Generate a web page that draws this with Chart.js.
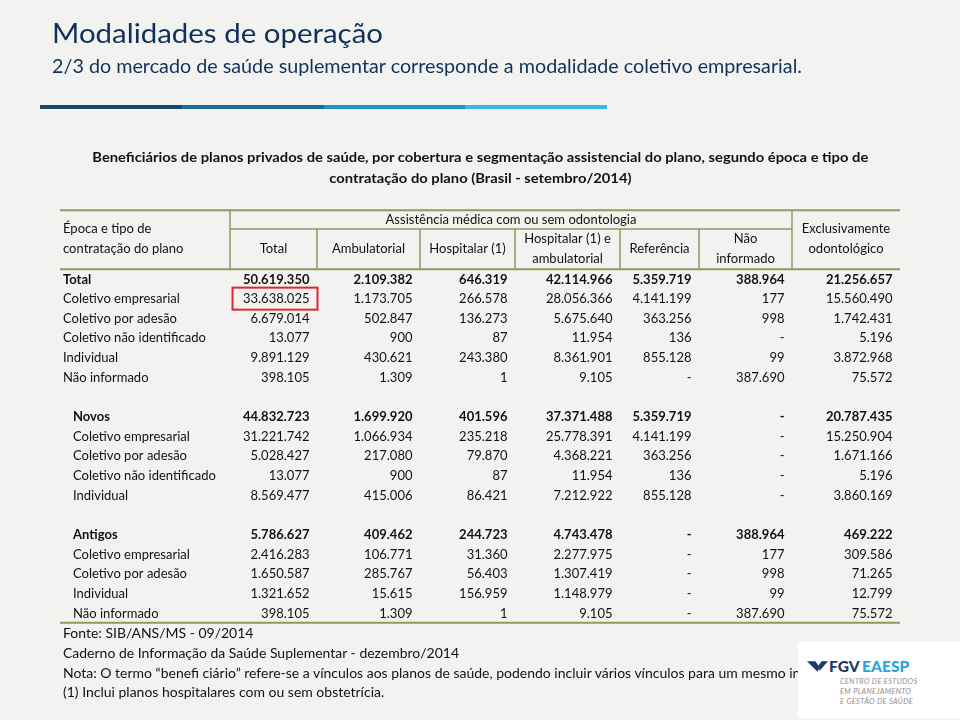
<!DOCTYPE html>
<html><head><meta charset="utf-8">
<script src="https://cdn.jsdelivr.net/npm/chart.js@4.4.1/dist/chart.umd.min.js"></script>
<style>
html,body{margin:0;padding:0;}
body{width:960px;height:720px;background:#f2f2f1;position:relative;overflow:hidden;font-family:Lato,"Open Sans",sans-serif;}
#c{position:absolute;left:0;top:0;}
.t{position:absolute;white-space:nowrap;transform-origin:0 50%;line-height:1;}
#title{left:52px;top:19px;font-size:27px;color:#11305a;}
#sub{left:52px;top:57px;font-size:18.5px;color:#11305a;}
.ct{font-weight:bold;font-size:14px;color:#111;transform-origin:50% 50%;}
.fn{left:63px;font-size:13.5px;color:#111;}
#bar{position:absolute;left:40px;top:105px;width:567px;height:4px;display:flex;}
#bar div{flex:1;}
#logo{position:absolute;left:798px;top:642px;width:162px;height:76px;background:#fff;}
#logo .big{position:absolute;top:15px;font-weight:900;font-size:15.5px;letter-spacing:0.1px;}
#logo .sm{position:absolute;left:42px;font-style:italic;font-size:7.4px;color:#8d8d8d;letter-spacing:0.35px;white-space:nowrap;}
</style></head>
<body>
<canvas id="c" width="960" height="720"></canvas>
<div id="bar"><div style="background:#164a6d"></div><div style="background:#1e6d9d"></div><div style="background:#2593c5"></div><div style="background:#3cb7e2"></div></div>
<div class="t" id="title" data-w="331">Modalidades de operação</div>
<div class="t" id="sub" data-w="750">2/3 do mercado de saúde suplementar corresponde a modalidade coletivo empresarial.</div>
<div class="t ct" id="ct1" data-w="776" data-cx="480" style="top:150px">Beneficiários de planos privados de saúde, por cobertura e segmentação assistencial do plano, segundo época e tipo de</div>
<div class="t ct" id="ct2" data-same="ct1" data-cx="480" style="top:171px">contratação do plano (Brasil - setembro/2014)</div>
<div class="t fn" id="fn1" data-same="fn2" style="top:627px">Fonte: SIB/ANS/MS - 09/2014</div>
<div class="t fn" id="fn2" data-w="396" style="top:647px">Caderno de Informação da Saúde Suplementar - dezembro/2014</div>
<div class="t fn" id="fn3" data-same="fn2" style="top:667px">Nota: O termo “benefi ciário” refere-se a vínculos aos planos de saúde, podendo incluir vários vínculos para um mesmo indivíduo.</div>
<div class="t fn" id="fn4" data-same="fn2" style="top:686px">(1) Inclui planos hospitalares com ou sem obstetrícia.</div>
<div id="logo">
  <svg style="position:absolute;left:9px;top:19px" width="21" height="11" viewBox="0 0 20 10">
    <polygon points="0,0 8,0 12,6 10,10" fill="#1b3a6b"/>
    <polygon points="11,4 14,0 20,0 12,9" fill="#1b3a6b"/>
  </svg>
  <div class="big" style="left:31px;color:#1b3a6b">FGV</div>
  <div class="big" style="left:64px;color:#2aa3dc">EAESP</div>
  <div class="sm" style="top:35px">CENTRO DE ESTUDOS</div>
  <div class="sm" style="top:45px">EM PLANEJAMENTO</div>
  <div class="sm" style="top:55px">E GESTÃO DE SAÚDE</div>
</div>
<script>
// ---------------- data ----------------
const rowLabels = ["Total","Coletivo empresarial","Coletivo por adesão","Coletivo não identificado","Individual","Não informado","",
  "Novos","Coletivo empresarial","Coletivo por adesão","Coletivo não identificado","Individual","",
  "Antigos","Coletivo empresarial","Coletivo por adesão","Individual","Não informado"];
const boldRows = [0, 7, 13];
const indentedRows = [7,8,9,10,11,13,14,15,16,17];
const columnLabels = ["Total","Ambulatorial","Hospitalar (1)","Hospitalar (1) e ambulatorial","Referência","Não informado","Exclusivamente odontológico"];
const groupLabel = "Assistência médica com ou sem odontologia";
const rowHeader = ["Época e tipo de", "contratação do plano"];
// null = blank row, 0 = "-"
const totalVals       = [50619350,33638025,6679014,13077,9891129,398105,null,44832723,31221742,5028427,13077,8569477,null,5786627,2416283,1650587,1321652,398105];
const ambulatorialVals= [2109382,1173705,502847,900,430621,1309,null,1699920,1066934,217080,900,415006,null,409462,106771,285767,15615,1309];
const hospitalarVals  = [646319,266578,136273,87,243380,1,null,401596,235218,79870,87,86421,null,244723,31360,56403,156959,1];
const hospAmbVals     = [42114966,28056366,5675640,11954,8361901,9105,null,37371488,25778391,4368221,11954,7212922,null,4743478,2277975,1307419,1148979,9105];
const referenciaVals  = [5359719,4141199,363256,136,855128,0,null,5359719,4141199,363256,136,855128,null,0,0,0,0,0];
const naoInformadoVals= [388964,177,998,0,99,387690,null,0,0,0,0,0,null,388964,177,998,99,387690];
const odontoVals      = [21256657,15560490,1742431,5196,3872968,75572,null,20787435,15250904,1671166,5196,3860169,null,469222,309586,71265,12799,75572];
const seriesList = [totalVals, ambulatorialVals, hospitalarVals, hospAmbVals, referenciaVals, naoInformadoVals, odontoVals];
const highlight = {row: 1, col: 0};

// ---------------- layout ----------------
const colEdges = [230, 317, 420, 515, 620, 699, 792, 900];
const tableLeft = 60, tableRight = 900;
const labelX = 63, indentX = 73, cellPad = 7.5;
const CX = 0.93, FS = 14, FONT = 'Lato';
const LINE = '#8c9c5c';

function fmt(v){ if (v === null) return ''; if (v === 0) return '-'; return String(v).replace(/\B(?=(\d{3})+(?!\d))/g, '.'); }

function txt(ctx, t, x, y, align, bold){
  ctx.save();
  ctx.font = (bold ? 'bold ' : '') + FS + 'px ' + FONT;
  ctx.textBaseline = 'middle';
  ctx.textAlign = align;
  ctx.fillStyle = '#111';
  ctx.translate(x, y);
  ctx.scale(CX, 1);
  ctx.fillText(t, 0, 0);
  ctx.restore();
}

const datasets = [{
  label: 'rows', kind: 'label',
  data: rowLabels.map((l, r) => ({x: l ? (indentedRows.includes(r) ? indentX : labelX) : null, y: r}))
}].concat(seriesList.map((vals, c) => ({
  label: columnLabels[c], kind: 'value', vals: vals,
  data: vals.map((v, r) => ({x: v === null ? null : colEdges[c+1] - cellPad, y: r}))
})));

const tablePlugin = {
  id: 'table',
  afterDatasetsDraw(chart){
    const ctx = chart.ctx, xs = chart.scales.x, ys = chart.scales.y;
    const y0 = ys.getPixelForValue(0), pitch = ys.getPixelForValue(1) - y0;
    const yLast = ys.getPixelForValue(rowLabels.length - 1);
    const X = v => xs.getPixelForValue(v);
    // header lines
    ctx.save();
    ctx.strokeStyle = LINE;
    const hTop = y0 - 3.5*pitch, hMid = y0 - 2.55*pitch, hBot = y0 - 0.5*pitch, tBot = yLast + 0.5*pitch;
    ctx.lineWidth = 2;
    ctx.beginPath();
    ctx.moveTo(X(tableLeft), hTop); ctx.lineTo(X(tableRight), hTop);
    ctx.moveTo(X(tableLeft), hBot); ctx.lineTo(X(tableRight), hBot);
    ctx.moveTo(X(tableLeft), tBot); ctx.lineTo(X(tableRight), tBot);
    ctx.stroke();
    ctx.lineWidth = 1.5;
    ctx.beginPath();
    ctx.moveTo(X(colEdges[0]), hMid); ctx.lineTo(X(colEdges[6]), hMid);
    [0, 6].forEach(i => { ctx.moveTo(X(colEdges[i]), hTop); ctx.lineTo(X(colEdges[i]), hBot); });
    [1,2,3,4,5].forEach(i => { ctx.moveTo(X(colEdges[i]), hMid); ctx.lineTo(X(colEdges[i]), hBot); });
    ctx.stroke();
    ctx.restore();
    // header texts
    txt(ctx, rowHeader[0], X(labelX), y0 - 2.55*pitch, 'left', false);
    txt(ctx, rowHeader[1], X(labelX), y0 - 1.53*pitch, 'left', false);
    txt(ctx, groupLabel, (X(colEdges[0]) + X(colEdges[6]))/2, y0 - 3.05*pitch, 'center', false);
    const twoLine = {3: ["Hospitalar (1) e", "ambulatorial"], 5: ["Não", "informado"]};
    columnLabels.forEach((lab, c) => {
      const cx = (X(colEdges[c]) + X(colEdges[c+1]))/2;
      if (c === 6) {
        txt(ctx, "Exclusivamente", cx, y0 - 2.55*pitch, 'center', false);
        txt(ctx, "odontológico", cx, y0 - 1.53*pitch, 'center', false);
      } else if (twoLine[c]) {
        txt(ctx, twoLine[c][0], cx, y0 - 2.04*pitch, 'center', false);
        txt(ctx, twoLine[c][1], cx, y0 - 1.02*pitch, 'center', false);
      } else {
        txt(ctx, lab, cx, y0 - 1.53*pitch, 'center', false);
      }
    });
    // cells
    chart.data.datasets.forEach((ds, di) => {
      const meta = chart.getDatasetMeta(di);
      meta.data.forEach((el, r) => {
        if (ds.data[r].x === null) return;
        const bold = boldRows.includes(r);
        if (ds.kind === 'label') txt(ctx, rowLabels[r], el.x, el.y, 'left', bold);
        else txt(ctx, fmt(ds.vals[r]), el.x, el.y, 'right', bold);
      });
    });
    // highlight box
    const hy = ys.getPixelForValue(highlight.row);
    ctx.save();
    ctx.strokeStyle = '#e0262b'; ctx.lineWidth = 2;
    ctx.strokeRect(X(colEdges[highlight.col]) + 2.5, hy - 0.56*pitch, X(colEdges[highlight.col+1]) - X(colEdges[highlight.col]) - 2, 1.12*pitch);
    ctx.restore();
  }
};

function fit(){
  const factors = {};
  document.querySelectorAll('[data-w]').forEach(el => {
    const f = parseFloat(el.dataset.w) / el.getBoundingClientRect().width;
    factors[el.id] = f;
  });
  document.querySelectorAll('.t').forEach(el => {
    const f = el.dataset.w ? factors[el.id] : factors[el.dataset.same];
    if (!f) return;
    if (el.dataset.cx) {
      const w = el.getBoundingClientRect().width;
      el.style.left = (parseFloat(el.dataset.cx) - w/2) + 'px';
    }
    el.style.transform = 'scaleX(' + f + ')';
  });
}

function draw(){
  fit();
  new Chart(document.getElementById('c'), {
    type: 'scatter',
    data: {datasets},
    options: {
      responsive: false, animation: false, events: [],
      layout: {padding: {left: 0, right: 0, top: 279, bottom: 107}},
      scales: {
        x: {type: 'linear', min: 0, max: 960, display: false},
        y: {type: 'category', labels: rowLabels, offset: false, display: false}
      },
      elements: {point: {radius: 0}},
      plugins: {legend: {display: false}, tooltip: {enabled: false}}
    },
    plugins: [tablePlugin]
  });
}
Promise.all([document.fonts.load('14px Lato'), document.fonts.load('bold 14px Lato')]).then(draw, draw);
</script>
</body></html>
